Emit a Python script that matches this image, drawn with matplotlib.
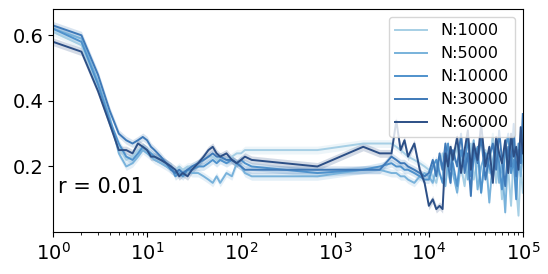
import numpy as np
import matplotlib
matplotlib.use("Agg")
import matplotlib.pyplot as plt

# shared x grid: dense at small x, sparse in the middle, dense again at the end
x_low = [1, 2, 3, 4, 5, 6, 7, 8, 9, 10, 11, 12, 14, 16, 18, 20, 22, 24, 27, 30,
         35, 40, 45, 50, 55, 60, 70, 80, 90, 100, 110, 130]
x_mid = [650, 2000, 3000, 4000, 4500, 5000, 5500, 6000, 7000, 8000, 9000]
x_high = [10000, 11000, 12000, 13000, 14000, 15000, 16000, 17000, 18000, 20000,
          22000, 24000, 26000, 28000, 30000, 33000, 36000, 40000, 44000, 48000,
          52000, 56000, 60000, 65000, 70000, 75000, 80000, 85000, 90000, 95000,
          100000]

labels = ["N:1000", "N:5000", "N:10000", "N:30000", "N:60000"]

y_1000 = [0.61, 0.57, 0.44, 0.33, 0.26, 0.22, 0.23, 0.25, 0.26, 0.25, 0.24, 0.23,
          0.22, 0.21, 0.20, 0.19, 0.20, 0.19, 0.20, 0.20, 0.21, 0.22, 0.23, 0.23,
          0.22, 0.23, 0.22, 0.23, 0.24, 0.24, 0.25, 0.25,
          0.25, 0.27, 0.27, 0.27, 0.26, 0.25, 0.24, 0.23, 0.22, 0.21, 0.20,
          0.19, 0.17, 0.15, 0.20, 0.24, 0.22, 0.18, 0.15, 0.21, 0.26, 0.20, 0.14,
          0.23, 0.27, 0.16, 0.22, 0.12, 0.25, 0.18, 0.30, 0.15, 0.22, 0.10, 0.26,
          0.19, 0.08, 0.24, 0.14, 0.05, 0.20, 0.12]
y_5000 = [0.62, 0.59, 0.46, 0.35, 0.24, 0.20, 0.21, 0.23, 0.25, 0.24, 0.23, 0.22,
          0.21, 0.20, 0.19, 0.18, 0.19, 0.18, 0.19, 0.18, 0.18, 0.17, 0.16, 0.15,
          0.17, 0.15, 0.18, 0.17, 0.21, 0.20, 0.18, 0.17,
          0.17, 0.19, 0.19, 0.18, 0.18, 0.17, 0.17, 0.16, 0.15, 0.17, 0.18,
          0.17, 0.15, 0.20, 0.23, 0.19, 0.14, 0.22, 0.26, 0.18, 0.12, 0.21, 0.25,
          0.16, 0.23, 0.28, 0.13, 0.20, 0.24, 0.09, 0.22, 0.27, 0.15, 0.21, 0.06,
          0.25, 0.18, 0.30, 0.11, 0.23, 0.17, 0.24]
y_10000 = [0.62, 0.58, 0.45, 0.34, 0.27, 0.23, 0.22, 0.24, 0.26, 0.25, 0.24, 0.23,
           0.22, 0.21, 0.20, 0.17, 0.18, 0.17, 0.19, 0.19, 0.20, 0.20, 0.21, 0.22,
           0.21, 0.22, 0.21, 0.22, 0.21, 0.22, 0.21, 0.20,
           0.18, 0.19, 0.20, 0.21, 0.20, 0.20, 0.19, 0.19, 0.18, 0.17, 0.16,
           0.16, 0.20, 0.22, 0.18, 0.15, 0.23, 0.27, 0.19, 0.21, 0.14, 0.25, 0.20,
           0.29, 0.17, 0.22, 0.26, 0.12, 0.24, 0.20, 0.16, 0.28, 0.21, 0.13, 0.25,
           0.30, 0.18, 0.22, 0.10, 0.27, 0.21, 0.32]
y_30000 = [0.63, 0.60, 0.48, 0.37, 0.30, 0.28, 0.27, 0.28, 0.29, 0.28, 0.26, 0.25,
           0.23, 0.21, 0.19, 0.18, 0.19, 0.18, 0.19, 0.20, 0.21, 0.22, 0.23, 0.24,
           0.23, 0.23, 0.22, 0.22, 0.21, 0.20, 0.19, 0.19,
           0.19, 0.19, 0.19, 0.23, 0.22, 0.21, 0.21, 0.20, 0.19, 0.18, 0.17,
           0.18, 0.22, 0.17, 0.24, 0.19, 0.27, 0.21, 0.15, 0.25, 0.20, 0.30, 0.18,
           0.24, 0.11, 0.26, 0.21, 0.29, 0.16, 0.23, 0.27, 0.19, 0.31, 0.22, 0.14,
           0.26, 0.20, 0.33, 0.17, 0.25, 0.21, 0.36]
y_60000 = [0.58, 0.55, 0.43, 0.33, 0.25, 0.25, 0.24, 0.27, 0.26, 0.25, 0.23, 0.23,
           0.22, 0.21, 0.20, 0.19, 0.17, 0.18, 0.17, 0.19, 0.21, 0.23, 0.25, 0.26,
           0.24, 0.23, 0.24, 0.22, 0.21, 0.22, 0.23, 0.22,
           0.20, 0.26, 0.24, 0.24, 0.34, 0.25, 0.28, 0.23, 0.27, 0.19, 0.15,
           0.08, 0.10, 0.07, 0.08, 0.07, 0.24, 0.20, 0.26, 0.22, 0.29, 0.18, 0.25,
           0.31, 0.19, 0.27, 0.22, 0.33, 0.20, 0.26, 0.15, 0.29, 0.24, 0.21, 0.28,
           0.18, 0.30, 0.23, 0.26, 0.19, 0.32, 0.24]

# half width of the shaded band for each run
band = [0.012, 0.012, 0.012, 0.012, 0.012]

colors = ["#a6cfe5", "#78b2db", "#4f92cc", "#3e79b8", "#2c4f86"]

x = np.array(x_low + x_mid + x_high, dtype=float)
series = [y_1000, y_5000, y_10000, y_30000, y_60000]

fig = plt.figure(figsize=(5.48, 2.74), dpi=100)
ax = fig.add_axes([0.097, 0.153, 0.857, 0.814])

for ys, lab, c, b in zip(series, labels, colors, band):
    ys = np.array(ys)
    ax.fill_between(x, ys - b, ys + b, color=c, alpha=0.2, linewidth=0)
    ax.plot(x, ys, color=c, linewidth=1.4, label=lab)

ax.set_xscale("log")
ax.set_xlim(1, 1e5)
ax.set_ylim(0.0, 0.68)
ax.set_yticks([0.2, 0.4, 0.6])
ax.tick_params(labelsize=14)
ax.text(0.01, 0.2, "r = 0.01", transform=ax.transAxes, fontsize=15,
        va="center", ha="left")
ax.legend(loc="upper right", fontsize=11.5, handlelength=2.0)

fig.savefig("out.png", dpi=100)
